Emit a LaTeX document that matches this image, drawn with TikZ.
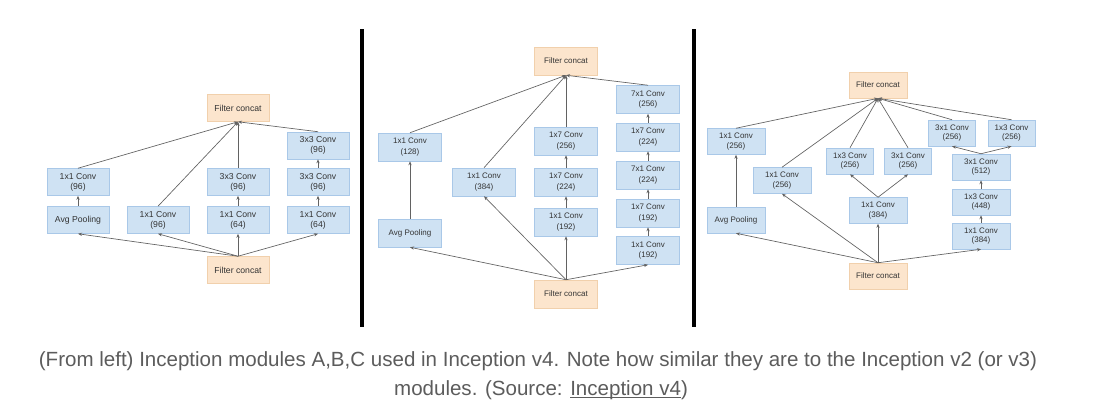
\documentclass[tikz,border=0pt]{standalone}
\usepackage{fontspec}
\setmainfont{Liberation Sans}
\usepackage{tikz}
\usetikzlibrary{arrows.meta}
\usepackage{xcolor}
\definecolor{convfill}{HTML}{CFE2F3}
\definecolor{convline}{HTML}{A9C8E8}
\definecolor{catfill}{HTML}{FCE5CD}
\definecolor{catline}{HTML}{F1D0AC}
\definecolor{edge}{HTML}{626262}
\definecolor{boxtext}{HTML}{333333}
\definecolor{captext}{HTML}{5C5C5C}
\newsavebox\linkbox
\newcommand\linktext[1]{\sbox\linkbox{#1}\rlap{\rule[-2.4pt]{\wd\linkbox}{1.1pt}}\usebox\linkbox}

\begin{document}
\begin{tikzpicture}[x=0.75pt, y=-0.75pt,
			conv/.style={draw=convline, fill=convfill, text=boxtext, align=center, inner sep=0pt,
				minimum width=46.5pt, minimum height=20.25pt, font=\fontsize{6.5}{7.5}\selectfont},
			concat/.style={conv, draw=catline, fill=catfill},
			convb/.style={conv, minimum width=47.25pt, minimum height=21pt, font=\fontsize{6}{8}\selectfont},
			concatb/.style={convb, draw=catline, fill=catfill},
			convc/.style={conv, minimum width=43.5pt, minimum height=19.5pt, font=\fontsize{6}{7.3}\selectfont},
			smallc/.style={convc, minimum width=35.25pt},
			concatc/.style={convc, draw=catline, fill=catfill},
			link/.style={draw=edge, line width=0.5pt, -{Stealth[length=3pt,width=2.4pt]}},
			rule/.style={line width=3pt, black},
			captionline/.style={text=captext, anchor=base, inner sep=0pt, font=\fontsize{15.4}{18}\selectfont}]
	\useasboundingbox[fill=white] (0,0) rectangle (1105,411);

	% module A
	\node[concat] (atop) at (238,108) {Filter concat};
	\node[conv] (a1) at (78,182) {1x1 Conv\\(96)};
	\node[conv] (apool) at (78,220) {Avg Pooling};
	\node[conv] (a2) at (158,220) {1x1 Conv\\(96)};
	\node[conv] (a3a) at (238,220) {1x1 Conv\\(64)};
	\node[conv] (a3b) at (238,182) {3x3 Conv\\(96)};
	\node[conv] (a4a) at (318,220) {1x1 Conv\\(64)};
	\node[conv] (a4b) at (318,182) {3x3 Conv\\(96)};
	\node[conv] (a4c) at (318,145.5) {3x3 Conv\\(96)};
	\node[concat] (abot) at (238,270) {Filter concat};
	\foreach \n in {apool,a2,a3a,a4a}
		\draw[link] (abot.north) -- (\n.south);
	\foreach \n in {a1,a2,a3b,a4c}
		\draw[link] (\n.north) -- (atop.south);
	\draw[link] (apool) -- (a1);
	\draw[link] (a3a) -- (a3b);
	\draw[link] (a4a) -- (a4b);
	\draw[link] (a4b) -- (a4c);

	\draw[rule] (362,29) -- (362,327);

	% module B
	\node[concatb] (btop) at (566,61) {Filter concat};
	\node[convb] (b1) at (410,147) {1x1 Conv\\(128)};
	\node[convb] (bpool) at (410,233) {Avg Pooling};
	\node[convb] (b2) at (484,182) {1x1 Conv\\(384)};
	\node[convb] (b3a) at (566,222) {1x1 Conv\\(192)};
	\node[convb] (b3b) at (566,182) {1x7 Conv\\(224)};
	\node[convb] (b3c) at (566,141) {1x7 Conv\\(256)};
	\node[convb] (b4a) at (648,250.5) {1x1 Conv\\(192)};
	\node[convb] (b4b) at (648,213) {1x7 Conv\\(192)};
	\node[convb] (b4c) at (648,175) {7x1 Conv\\(224)};
	\node[convb] (b4d) at (648,137) {1x7 Conv\\(224)};
	\node[convb] (b4e) at (648,99.5) {7x1 Conv\\(256)};
	\node[concatb] (bbot) at (566,294) {Filter concat};
	\foreach \n in {bpool,b2,b3a,b4a}
		\draw[link] (bbot.north) -- (\n.south);
	\foreach \n in {b1,b2,b3c,b4e}
		\draw[link] (\n.north) -- (btop.south);
	\draw[link] (bpool) -- (b1);
	\draw[link] (b3a) -- (b3b);
	\draw[link] (b3b) -- (b3c);
	\draw[link] (b4a) -- (b4b);
	\draw[link] (b4b) -- (b4c);
	\draw[link] (b4c) -- (b4d);
	\draw[link] (b4d) -- (b4e);

	\draw[rule] (693.5,29) -- (693.5,327);

	% module C
	\node[concatc] (ctop) at (878,85) {Filter concat};
	\node[convc] (c1) at (736,141.5) {1x1 Conv\\(256)};
	\node[convc] (cpool) at (736,220) {Avg Pooling};
	\node[convc] (c2) at (782,180.5) {1x1 Conv\\(256)};
	\node[convc] (c3) at (878,210.5) {1x1 Conv\\(384)};
	\node[smallc] (c3l) at (850,161) {1x3 Conv\\(256)};
	\node[smallc] (c3r) at (908,161) {3x1 Conv\\(256)};
	\node[convc] (c4a) at (981,236) {1x1 Conv\\(384)};
	\node[convc] (c4b) at (981,202) {1x3 Conv\\(448)};
	\node[convc] (c4c) at (981,167) {3x1 Conv\\(512)};
	\node[smallc] (c4l) at (952,133) {3x1 Conv\\(256)};
	\node[smallc] (c4r) at (1011.5,133) {1x3 Conv\\(256)};
	\node[concatc] (cbot) at (878,276) {Filter concat};
	\foreach \n in {cpool,c2,c3,c4a}
		\draw[link] (cbot.north) -- (\n.south);
	\foreach \n in {c1,c2,c3l,c3r,c4l,c4r}
		\draw[link] (\n.north) -- (ctop.south);
	\draw[link] (cpool) -- (c1);
	\draw[link] (c3.north) -- (c3l.south);
	\draw[link] (c3.north) -- (c3r.south);
	\draw[link] (c4a) -- (c4b);
	\draw[link] (c4b) -- (c4c);
	\draw[link] (c4c.north) -- (c4l.south);
	\draw[link] (c4c.north) -- (c4r.south);

	% caption
	\node[captionline] (cap1) at (538,366) {(From left) Inception modules A,B,C used in Inception v4. Note how similar they are to the Inception v2 (or v3)};
	\node[captionline] (cap2) at (541,395) {modules. (Source: \linktext{Inception v4})};
\end{tikzpicture}
\end{document}
